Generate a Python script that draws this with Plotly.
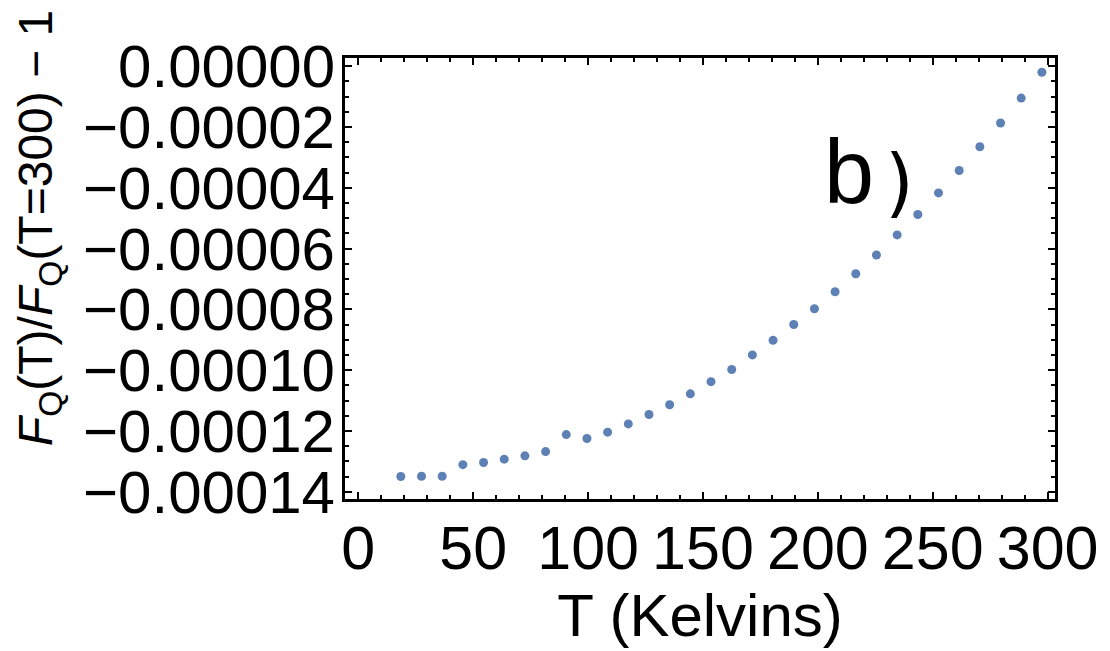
import plotly.graph_objects as go

# Temperature sample points (K)
temperature = [18.5, 27.5, 36.5, 45.5, 54.5, 63.5, 72.5, 81.5, 90.5, 99.5,
               108.5, 117.5, 126.5, 135.5, 144.5, 153.5, 162.5, 171.5, 180.5, 189.5,
               198.5, 207.5, 216.5, 225.5, 234.5, 243.5, 252.5, 261.5, 270.5, 279.5,
               288.5, 297.5]

# Relative change F_Q(T)/F_Q(T=300) - 1
rel_change = [-135.0e-6, -134.9e-6, -134.9e-6, -131.1e-6, -130.4e-6, -129.3e-6,
              -128.2e-6, -126.8e-6, -121.2e-6, -122.5e-6, -120.4e-6, -117.7e-6,
              -114.6e-6, -111.4e-6, -107.8e-6, -103.8e-6, -99.8e-6, -95.0e-6,
              -90.2e-6, -85.0e-6, -79.8e-6, -74.2e-6, -68.3e-6, -62.1e-6,
              -55.5e-6, -48.8e-6, -41.7e-6, -34.3e-6, -26.5e-6, -18.7e-6,
              -10.5e-6, -2.0e-6]

x_ticks = [0, 50, 100, 150, 200, 250, 300]
y_ticks = [0.0, -0.00002, -0.00004, -0.00006, -0.00008, -0.00010, -0.00012, -0.00014]

FONT = "Liberation Sans, Arial, sans-serif"
POINT_COLOR = "rgb(94,129,181)"

# Plot-area geometry in pixels
ML, MR, MT, MB = 345, 50, 58, 152
W, H = 1110, 651
X_RANGE = [-5.8, 303.2]
Y_RANGE = [-1.424e-4, 2.7e-6]

fig = go.Figure()
fig.add_trace(go.Scatter(
    x=temperature, y=rel_change, mode="markers",
    marker=dict(color=POINT_COLOR, size=9),
    showlegend=False,
))

axis_common = dict(
    showline=True, linecolor="black", linewidth=3, mirror="allticks",
    ticks="inside", ticklen=7, tickwidth=2, tickcolor="black",
    showgrid=False, zeroline=False,
)

fig.update_xaxes(
    **axis_common,
    range=X_RANGE, tickvals=x_ticks,
    tickfont=dict(family=FONT, size=61, color="black"),
    minor=dict(ticks="inside", dtick=10, ticklen=4, tickwidth=1.5, tickcolor="black"),
    ticklabelstandoff=-6,
    title=dict(text="T (Kelvins)", font=dict(family=FONT, size=60, color="black"), standoff=0),
)
fig.update_yaxes(
    **axis_common,
    range=Y_RANGE, tickvals=y_ticks, tickformat=".5f",
    tickfont=dict(family=FONT, size=60, color="black"),
    minor=dict(ticks="inside", dtick=5e-6, ticklen=4, tickwidth=1.5, tickcolor="black"),
    ticklabelstandoff=-5,
)

pw, ph = W - ML - MR, H - MT - MB


def to_data(px, py):
    """Pixel position inside the page -> data coordinates."""
    return (X_RANGE[0] + (px - ML) / pw * (X_RANGE[1] - X_RANGE[0]),
            Y_RANGE[1] - (py - MT) / ph * (Y_RANGE[1] - Y_RANGE[0]))


# Rotated y-axis label
fig.add_annotation(
    text="<i>F</i><sub>Q</sub>(T)/<i>F</i><sub>Q</sub>(T=300) − 1",
    textangle=-90, xref="paper", yref="paper",
    x=(37 - ML) / pw, y=(H - MB - 228) / ph,
    xanchor="center", yanchor="middle",
    showarrow=False, font=dict(family=FONT, size=48, color="black"),
)

# Panel label
bx, by = to_data(853, 172)
fig.add_annotation(text="b", x=bx, y=by, xref="x", yref="y", showarrow=False,
                   font=dict(family=FONT, size=90, color="black"))
px_, py_ = to_data(903, 182)
fig.add_annotation(text=")", x=px_, y=py_, xref="x", yref="y", showarrow=False,
                   font=dict(family="DejaVu Sans, sans-serif", size=74, color="black"))

fig.update_layout(
    width=W, height=H,
    margin=dict(l=ML, r=MR, t=MT, b=MB),
    paper_bgcolor="white", plot_bgcolor="white",
)

fig.write_html("out.html")
